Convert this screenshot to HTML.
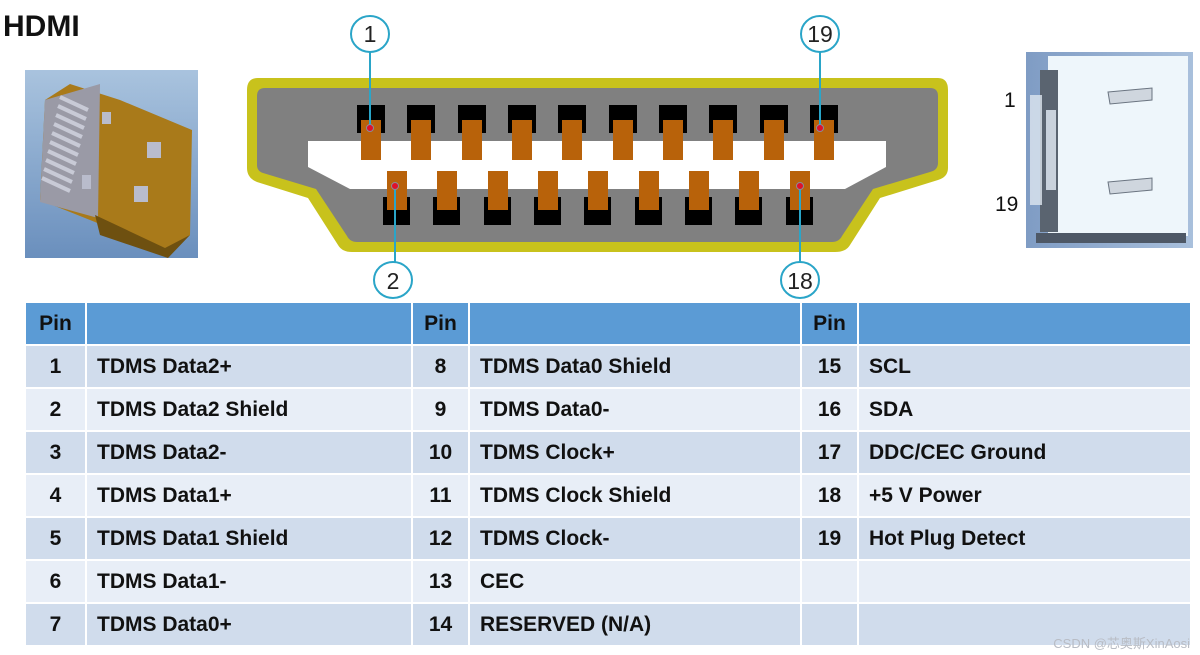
<!DOCTYPE html>
<html><head><meta charset="utf-8"><style>
body{margin:0;width:1200px;height:655px;background:#fff;position:relative;overflow:hidden;font-family:"Liberation Sans",sans-serif}
.t{position:absolute;left:3px;top:10px;font-size:30px;font-weight:bold;color:#111}
table{position:absolute;left:24px;top:301px;border-collapse:collapse}
td{border:2px solid #fff;height:41px;padding:0;font-size:21px;font-weight:bold;color:#111;font-family:"Liberation Sans",sans-serif}
tr.h td{background:#5b9bd5}
tr.a td{background:#d0dcec}
tr.b td{background:#e8eef7}
td.p{text-align:center}
td.d{padding-left:10px}
.wm{position:absolute;right:10px;top:633px;font-size:13px;color:#b8bcc4;font-family:"Liberation Sans","Noto Sans CJK SC",sans-serif}
</style></head><body>
<div class="t">HDMI</div>
<svg width="1200" height="300" style="position:absolute;left:0;top:0">
<defs>
<linearGradient id="lb" x1="0" y1="0" x2="0" y2="1"><stop offset="0" stop-color="#a9c3de"/><stop offset="1" stop-color="#6a8fbd"/></linearGradient>
<linearGradient id="rb" x1="0" y1="0" x2="1" y2="0"><stop offset="0" stop-color="#7f9cc4"/><stop offset="1" stop-color="#a9c0dc"/></linearGradient>
</defs>
<rect x="25" y="70" width="173" height="188" fill="url(#lb)"/>
<polygon points="70,84 120,100 192,130 190,235 165,255 95,222 40,200 45,100" fill="#a97a1a"/>
<polygon points="45,100 100,84 98,218 40,202" fill="#9a9aa6"/>
<polygon points="95,215 165,248 190,235 168,258 100,235" fill="#6e5010"/>
<g stroke="#c8cad6" stroke-width="4">
<line x1="60" y1="97" x2="88" y2="110"/><line x1="58" y1="106" x2="86" y2="119"/><line x1="56" y1="115" x2="84" y2="128"/><line x1="54" y1="124" x2="82" y2="137"/><line x1="52" y1="133" x2="80" y2="146"/><line x1="50" y1="142" x2="78" y2="155"/><line x1="48" y1="151" x2="76" y2="164"/><line x1="46" y1="160" x2="74" y2="173"/><line x1="44" y1="169" x2="72" y2="182"/><line x1="42" y1="178" x2="70" y2="191"/>
</g>
<rect x="102" y="112" width="9" height="12" fill="#b9bccc"/><rect x="147" y="142" width="14" height="16" fill="#b9bccc"/><rect x="82" y="175" width="9" height="14" fill="#b9bccc"/><rect x="134" y="186" width="14" height="16" fill="#b9bccc"/>
<path d="M258,78 H938 Q948,78 948,90 V168 Q948,177 938,180 L880,198 L850,245 Q846,252 835,252 H352 Q342,252 338,245 L308,198 L257,182 Q247,178 247,168 V90 Q247,78 258,78 Z" fill="#c8c21c"/>
<path d="M265,88 H930 Q938,88 938,96 V163 Q938,170 930,172 L873,189 L842,236 Q839,242 832,242 H357 Q350,242 347,236 L316,189 L263,173 Q257,171 257,165 V96 Q257,88 265,88 Z" fill="#808080"/>
<polygon points="308,141 886,141 886,167 845,189 350,189 308,167" fill="#fff"/>
<g fill="#000"><rect x="357" y="105" width="28" height="28"/><rect x="407" y="105" width="28" height="28"/><rect x="458" y="105" width="28" height="28"/><rect x="508" y="105" width="28" height="28"/><rect x="558" y="105" width="28" height="28"/><rect x="609" y="105" width="28" height="28"/><rect x="659" y="105" width="28" height="28"/><rect x="709" y="105" width="28" height="28"/><rect x="760" y="105" width="28" height="28"/><rect x="810" y="105" width="28" height="28"/></g>
<g fill="#b8620a"><rect x="361" y="120" width="20" height="40"/><rect x="411" y="120" width="20" height="40"/><rect x="462" y="120" width="20" height="40"/><rect x="512" y="120" width="20" height="40"/><rect x="562" y="120" width="20" height="40"/><rect x="613" y="120" width="20" height="40"/><rect x="663" y="120" width="20" height="40"/><rect x="713" y="120" width="20" height="40"/><rect x="764" y="120" width="20" height="40"/><rect x="814" y="120" width="20" height="40"/></g>
<g fill="#000"><rect x="383" y="197" width="27" height="28"/><rect x="433" y="197" width="27" height="28"/><rect x="484" y="197" width="27" height="28"/><rect x="534" y="197" width="27" height="28"/><rect x="584" y="197" width="27" height="28"/><rect x="635" y="197" width="27" height="28"/><rect x="685" y="197" width="27" height="28"/><rect x="735" y="197" width="27" height="28"/><rect x="786" y="197" width="27" height="28"/></g>
<g fill="#b8620a"><rect x="387" y="171" width="20" height="39"/><rect x="437" y="171" width="20" height="39"/><rect x="488" y="171" width="20" height="39"/><rect x="538" y="171" width="20" height="39"/><rect x="588" y="171" width="20" height="39"/><rect x="639" y="171" width="20" height="39"/><rect x="689" y="171" width="20" height="39"/><rect x="739" y="171" width="20" height="39"/><rect x="790" y="171" width="20" height="39"/></g>
<g stroke="#2aa5c8" stroke-width="2" fill="#fff">
<line x1="370" y1="52" x2="370" y2="128"/><line x1="820" y1="52" x2="820" y2="128"/>
<line x1="395" y1="262" x2="395" y2="186"/><line x1="800" y1="262" x2="800" y2="186"/>
<ellipse cx="370" cy="34" rx="19" ry="18"/><ellipse cx="820" cy="34" rx="19" ry="18"/>
<ellipse cx="393" cy="280" rx="19" ry="18"/><ellipse cx="800" cy="280" rx="19" ry="18"/>
</g>
<g fill="#e0102a" stroke="#8a8a9a" stroke-width="1"><circle cx="370" cy="128" r="3.5"/><circle cx="820" cy="128" r="3.5"/><circle cx="395" cy="186" r="3.5"/><circle cx="800" cy="186" r="3.5"/></g>
<g font-family="Liberation Sans,sans-serif" font-size="23" fill="#222" text-anchor="middle">
<text x="370" y="42">1</text><text x="820" y="42">19</text><text x="393" y="289">2</text><text x="800" y="289">18</text>
</g>
<rect x="1026" y="52" width="167" height="196" fill="url(#rb)"/>
<rect x="1048" y="56" width="140" height="180" fill="#eef6fb"/>
<rect x="1040" y="70" width="18" height="162" fill="#5a6470"/>
<rect x="1046" y="110" width="10" height="80" fill="#c9d2dc"/>
<rect x="1030" y="95" width="12" height="110" fill="#dde6ef" opacity=".8"/>
<path d="M1108,92 L1152,88 L1152,100 L1110,104 Z M1108,182 L1152,178 L1152,190 L1110,194 Z" fill="#cfd6de" stroke="#6a7480"/>
<rect x="1036" y="233" width="150" height="10" fill="#4e5866"/>
<g font-family="Liberation Sans,sans-serif" font-size="21" fill="#111"><text x="1004" y="107">1</text><text x="995" y="211">19</text></g>
</svg>
<table>
<tr class="h"><td class="p" style="width:59px">Pin</td><td style="width:324px"></td><td class="p" style="width:55px">Pin</td><td style="width:330px"></td><td class="p" style="width:55px">Pin</td><td style="width:331px"></td></tr>
<tr class="a"><td class="p">1</td><td class="d">TDMS Data2+</td><td class="p">8</td><td class="d">TDMS Data0 Shield</td><td class="p">15</td><td class="d">SCL</td></tr>
<tr class="b"><td class="p">2</td><td class="d">TDMS Data2 Shield</td><td class="p">9</td><td class="d">TDMS Data0-</td><td class="p">16</td><td class="d">SDA</td></tr>
<tr class="a"><td class="p">3</td><td class="d">TDMS Data2-</td><td class="p">10</td><td class="d">TDMS Clock+</td><td class="p">17</td><td class="d">DDC/CEC Ground</td></tr>
<tr class="b"><td class="p">4</td><td class="d">TDMS Data1+</td><td class="p">11</td><td class="d">TDMS Clock Shield</td><td class="p">18</td><td class="d">+5 V Power</td></tr>
<tr class="a"><td class="p">5</td><td class="d">TDMS Data1 Shield</td><td class="p">12</td><td class="d">TDMS Clock-</td><td class="p">19</td><td class="d">Hot Plug Detect</td></tr>
<tr class="b"><td class="p">6</td><td class="d">TDMS Data1-</td><td class="p">13</td><td class="d">CEC</td><td class="p"></td><td class="d"></td></tr>
<tr class="a"><td class="p">7</td><td class="d">TDMS Data0+</td><td class="p">14</td><td class="d">RESERVED (N/A)</td><td class="p"></td><td class="d"></td></tr>
</table>
<div class="wm">CSDN @芯奥斯XinAosi</div>
</body></html>
